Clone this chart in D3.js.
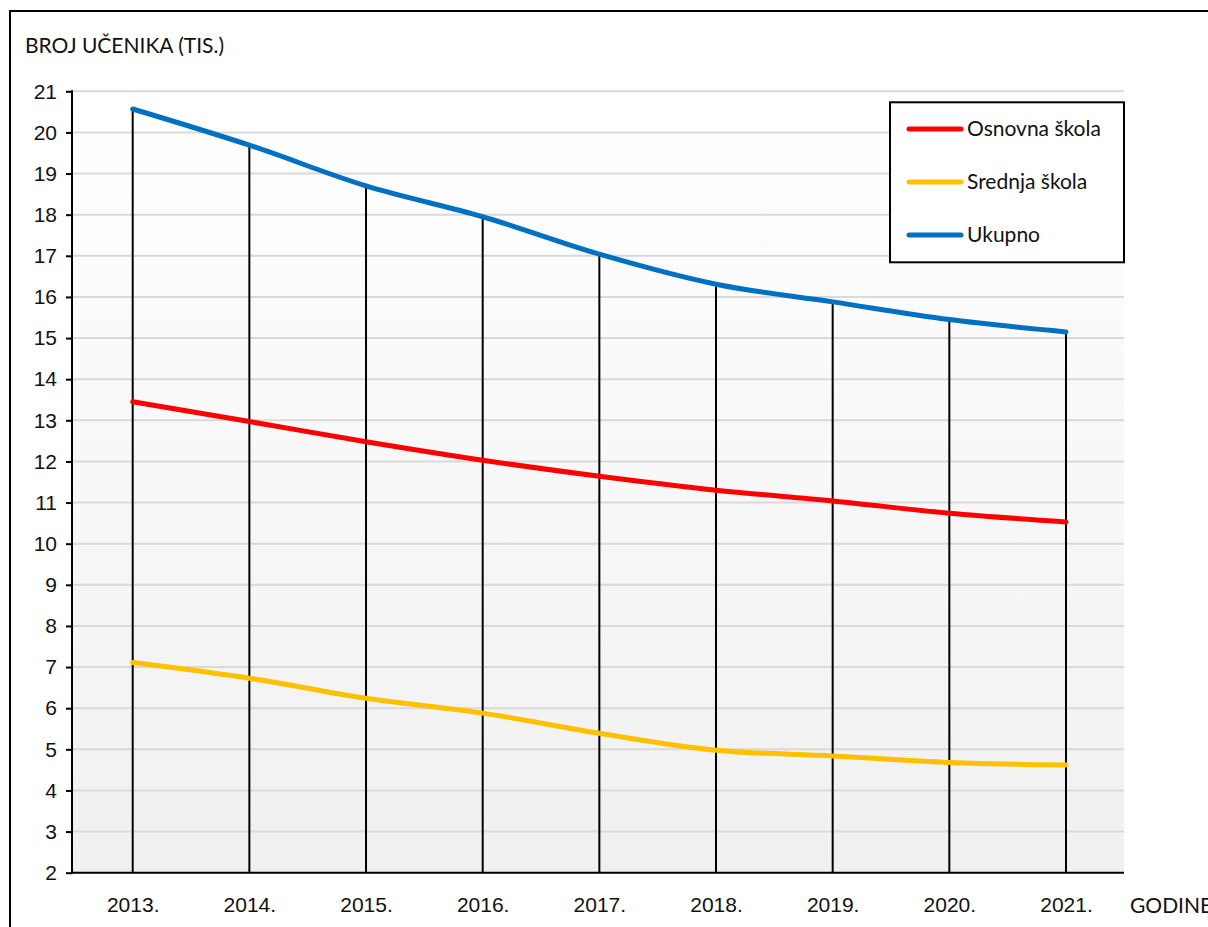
<!DOCTYPE html>
<html>
<head>
<meta charset="utf-8">
<script src="https://cdn.jsdelivr.net/npm/d3@7"></script>
<style>
  body { margin: 0; background: #fff; }
  svg { display: block; font-family: Lato, "Open Sans", sans-serif; }
</style>
</head>
<body>
<svg id="chart" width="1208" height="927"></svg>
<script>
var years = ["2013.", "2014.", "2015.", "2016.", "2017.", "2018.", "2019.", "2020.", "2021."];
var osnovna = [13.45, 12.97, 12.48, 12.03, 11.64, 11.30, 11.04, 10.74, 10.53];
var srednja = [7.11, 6.73, 6.24, 5.88, 5.39, 4.98, 4.84, 4.68, 4.62];
var ukupno = [20.57, 19.69, 18.70, 17.95, 17.04, 16.31, 15.88, 15.45, 15.15];
var yTicks = d3.range(2, 22);

var series = [
  {name: "Osnovna škola", values: osnovna, color: "#ff0000"},
  {name: "Srednja škola", values: srednja, color: "#ffc000"},
  {name: "Ukupno", values: ukupno, color: "#0070c0"}
];

var plot = {left: 72, right: 1124, top: 91.3, bottom: 872.7};
var fontSize = "21px";

var svg = d3.select("#chart");

var x = d3.scalePoint()
    .domain(years)
    .range([132.7, 1066]);

var y = d3.scaleLinear()
    .domain([2, 21])
    .range([plot.bottom, plot.top]);

// background gradient of the plot area
var grad = svg.append("defs").append("linearGradient")
    .attr("id", "bg")
    .attr("x1", 0).attr("y1", 0).attr("x2", 0).attr("y2", 1);
grad.append("stop").attr("offset", "0%").attr("stop-color", "#ffffff");
grad.append("stop").attr("offset", "100%").attr("stop-color", "#f0f0f0");

svg.append("rect")
    .attr("x", plot.left)
    .attr("y", plot.top)
    .attr("width", plot.right - plot.left)
    .attr("height", plot.bottom - plot.top)
    .attr("fill", "url(#bg)");

// outer frame
svg.append("rect")
    .attr("x", 10)
    .attr("y", 11)
    .attr("width", 1400)
    .attr("height", 1200)
    .attr("fill", "none")
    .attr("stroke", "#000")
    .attr("stroke-width", 2);

// gridlines
svg.append("g")
  .selectAll("line")
    .data(yTicks.slice(1))
  .enter().append("line")
    .attr("x1", plot.left)
    .attr("x2", plot.right)
    .attr("y1", function(d) { return y(d); })
    .attr("y2", function(d) { return y(d); })
    .attr("stroke", "#d9d9d9")
    .attr("stroke-width", 2);

// y axis
var yAxis = d3.axisLeft(y)
    .tickValues(yTicks)
    .tickSize(6)
    .tickPadding(9)
    .tickFormat(d3.format("d"));

var gy = svg.append("g")
    .attr("transform", "translate(" + plot.left + ",0)")
    .call(yAxis);
gy.select(".domain").remove();
gy.selectAll(".tick line").attr("stroke", "#000").attr("stroke-width", 2);
gy.selectAll(".tick text")
    .attr("fill", "#111")
    .style("font-size", fontSize);

svg.append("line")
    .attr("x1", plot.left).attr("x2", plot.left)
    .attr("y1", plot.top - 1).attr("y2", plot.bottom + 1)
    .attr("stroke", "#000").attr("stroke-width", 2);

// drop lines
svg.append("g")
  .selectAll("line")
    .data(ukupno)
  .enter().append("line")
    .attr("x1", function(d, i) { return x(years[i]); })
    .attr("x2", function(d, i) { return x(years[i]); })
    .attr("y1", function(d) { return y(d); })
    .attr("y2", plot.bottom)
    .attr("stroke", "#000")
    .attr("stroke-width", 2);

// x axis
var xAxis = d3.axisBottom(x).tickSize(0).tickPadding(24);
var gx = svg.append("g")
    .attr("transform", "translate(0," + plot.bottom + ")")
    .call(xAxis);
gx.select(".domain").remove();
gx.selectAll(".tick text")
    .attr("fill", "#111")
    .style("font-size", fontSize);

svg.append("line")
    .attr("x1", plot.left - 1).attr("x2", plot.right)
    .attr("y1", plot.bottom).attr("y2", plot.bottom)
    .attr("stroke", "#000").attr("stroke-width", 2);

// series lines
var line = d3.line()
    .x(function(d, i) { return x(years[i]); })
    .y(function(d) { return y(d); })
    .curve(d3.curveMonotoneX);

svg.append("g")
  .selectAll("path")
    .data(series)
  .enter().append("path")
    .attr("d", function(d) { return line(d.values); })
    .attr("fill", "none")
    .attr("stroke", function(d) { return d.color; })
    .attr("stroke-width", 5)
    .attr("stroke-linecap", "round");

// titles
svg.append("text")
    .attr("x", 25)
    .attr("y", 53)
    .style("font-size", fontSize)
    .attr("fill", "#111")
    .text("BROJ UČENIKA (TIS.)");

svg.append("text")
    .attr("x", 1130)
    .attr("y", 913)
    .style("font-size", fontSize)
    .attr("fill", "#111")
    .text("GODINE");

// legend
var legend = svg.append("g");
legend.append("rect")
    .attr("x", 890)
    .attr("y", 102.3)
    .attr("width", 234)
    .attr("height", 160)
    .attr("fill", "#fff")
    .attr("stroke", "#000")
    .attr("stroke-width", 2);

var item = legend.selectAll(".item")
    .data(series)
  .enter().append("g")
    .attr("class", "item")
    .attr("transform", function(d, i) { return "translate(0," + (129 + i * 53) + ")"; });

item.append("line")
    .attr("x1", 909).attr("x2", 961)
    .attr("stroke", function(d) { return d.color; })
    .attr("stroke-width", 5)
    .attr("stroke-linecap", "round");

item.append("text")
    .attr("x", 967)
    .attr("dy", "0.35em")
    .style("font-size", fontSize)
    .attr("fill", "#111")
    .text(function(d) { return d.name; });
</script>
</body>
</html>
